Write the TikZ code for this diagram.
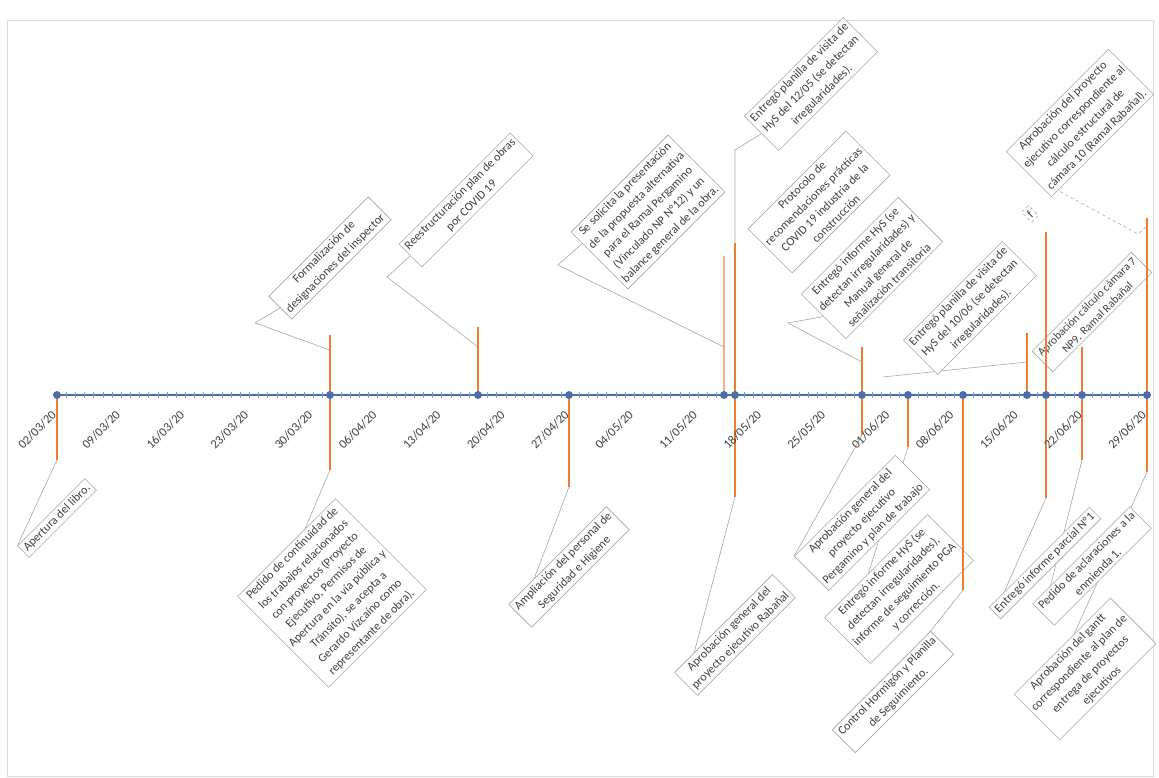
\documentclass[tikz,border=0pt]{standalone}
\usepackage{fontspec}
\setmainfont{Carlito}
\usetikzlibrary{calc}
\definecolor{axisblue}{HTML}{4A6EA9}
\definecolor{evorange}{HTML}{ED7D31}
\definecolor{boxgray}{HTML}{A6A6A6}
\definecolor{txtgray}{HTML}{404040}
\pgfdeclarelayer{bg}
\pgfsetlayers{bg,main}
\begin{document}
\begin{tikzpicture}[x=1pt,y=-1pt,
  evbox/.style={draw=boxgray, line width=0.6pt, fill=white, rotate=45, align=center, inner sep=3pt, font=\fontsize{12}{16}\selectfont, text=txtgray},
  leader/.style={draw=boxgray, line width=0.6pt},
  evline/.style={draw=evorange, line width=1.8pt},
  marker/.style={circle, fill=axisblue, inner sep=0pt, minimum size=8pt},
  datelbl/.style={rotate=45, anchor=east, font=\fontsize{12.5}{14}\selectfont, text=txtgray, inner sep=0pt},
]
\useasboundingbox (0,0) rectangle (1159,778);
\draw[draw=black!15] (7,20) rectangle (1153,776);

% ---- upper boxes
\node[evbox] (U1) at (330,258) {Formalización de\\designaciones del inspector};
\node[evbox] (U2) at (466,200) {Reestructuración plan de obras\\por COVID 19};
\node[evbox] (U3) at (648,212) {Se solicita la presentación\\de la propuesta alternativa\\para el Ramal Pergamino\\(Vinculado NP Nº12) y un\\balance general de la obra.};
\node[evbox] (U4) at (811,84) {Entregó planilla de visita de\\HyS del 12/05 (se detectan\\irregularidades).};
\node[evbox] (U5) at (819,202) {Protocolo de\\recomendaciones prácticas\\COVID 19 industria de la\\construcción};
\node[evbox] (U6) at (872,268) {Entregó informe HyS (se\\detectan irregularidades) y\\Manual general de\\señalización transitoria};
\node[evbox] (U7) at (970,308) {Entregó planilla de visita de\\HyS del 10/06 (se detectan\\irregularidades).};
\node[evbox] (U8) at (1080,123) {Aprobación del proyecto\\ejecutivo correspondiente al\\cálculo estructural de\\cámara 10 (Ramal Rabañal).};
\node[evbox, dashed] (U9) at (1030,214) {f};
\node[evbox, font=\fontsize{11.5}{15}\selectfont] (U10) at (1092,312) {Aprobación cálculo cámara 7\\NP9. Ramal Rabañal};

% ---- lower boxes
\node[evbox] (L1) at (57,518) {Apertura del libro.};
\node[evbox] (L2) at (332,593) {Pedido de continuidad de\\los trabajos relacionados\\con proyectos (Proyecto\\Ejecutivo, Permisos de\\Apertura en la vía pública y\\Tránsito), se acepta a\\Gerardo Vizcaíno como\\representante de obra).};
\node[evbox] (L3) at (569,567) {Ampliación del personal de\\Seguridad e Higiene};
\node[evbox] (L4) at (735,635) {Aprobación general del\\proyecto ejecutivo Rabañal};
\node[evbox] (L5) at (862,523) {Aprobación general del\\proyecto ejecutivo\\Pergamino y plan de trabajo};
\node[evbox] (L6) at (899,589) {Entregó informe HyS (se\\detectan irregularidades),\\informe de seguimiento PGA\\y corrección.};
\node[evbox] (L7) at (893,692) {Control Hormigón y Planilla\\de Seguimiento.};
\node[evbox] (L8) at (1045,563) {Entregó informe parcial Nº1};
\node[evbox] (L9) at (1092,566) {Pedido de aclaraciones a la\\enmienda 1.};
\node[evbox] (L10) at (1085,669) {Aprobación del gantt\\correspondiente al plan de\\entrega de proyectos\\ejecutivos};

% ---- axis positions of the events
\foreach \x [count=\i] in {57,330,478,569,724,735,862,908,963,1027,1046,1082,1147}
  \coordinate (a\i) at (\x,395);

% ---- event line ends
\coordinate (b1) at (57,460);
\coordinate (t2) at (330,335);  \coordinate (b2) at (330,470);
\coordinate (t3) at (478,327);
\coordinate (b4) at (569,487);
\coordinate (t5) at (724,256);
\coordinate (t6) at (735,243);  \coordinate (b6) at (735,497);
\coordinate (t7) at (862,347);  \coordinate (b7) at (862,435);
\coordinate (b8) at (908,447);
\coordinate (b9) at (963,590);
\coordinate (t10) at (1027,333);
\coordinate (t11) at (1046,232); \coordinate (b11) at (1046,498);
\coordinate (t12) at (1082,347); \coordinate (b12) at (1082,460);
\coordinate (t13) at (1147,218); \coordinate (b13) at (1147,472);

% leader bends and starts
\coordinate (k1) at (255,323);
\coordinate (k2) at (387,277);
\coordinate (k3) at (558,265);
\coordinate (k4) at (735,150);
\coordinate (k6) at (788,323);
\coordinate (k7) at (883,377);
\coordinate (k8) at (1138,234);
\coordinate (s1) at (330,350);
\coordinate (s2) at (478,347);
\coordinate (s3) at (724,347);
\coordinate (s6) at (862,362);
\coordinate (s7) at (1027,362);
\coordinate (s8) at (1147,226);

% ---- leaders (behind boxes)
\begin{pgfonlayer}{bg}
\draw[leader] (b1) -- (L1.north west);
\draw[leader] (b2) -- ($(L2.north west)!0.3!(L2.south west)$);
\draw[leader] (s1) -- (k1) -- (U1.west);
\draw[leader] (s2) -- (k2) -- (U2.west);
\draw[leader] (b4) -- (L3.west);
\draw[leader] (s3) -- (k3) -- ($(U3.north west)!0.2!(U3.south west)$);
\draw[leader] (t6) -- (k4) -- (U4.west);
\draw[leader] (b6) -- (L4.west);
\draw[leader] (s6) -- (k6) -- (U6.west);
\draw[leader] (b7) -- (L5.north west);
\draw[leader] (b8) -- (L6.west);
\draw[leader] (b9) -- (L7.west);
\draw[leader] (s7) -- (k7);
\draw[leader] (b11) -- (L8.west);
\draw[leader] (b12) -- (L9.west);
\draw[leader] (b13) -- (L10.west);
\draw[leader, dashed] (U8.west) -- (k8) -- (s8);
\end{pgfonlayer}

% ---- orange event lines
\draw[evline] (a1) -- (b1);
\draw[evline] (t2) -- (b2);
\draw[evline] (a3) -- (t3);
\draw[evline] (a4) -- (b4);
\draw[evline, draw opacity=0.6] (a5) -- (t5);
\draw[evline] (t6) -- (b6);
\draw[evline] (t7) -- (b7);
\draw[evline] (a8) -- (b8);
\draw[evline] (a9) -- (b9);
\draw[evline] (a10) -- (t10);
\draw[evline] (t11) -- (b11);
\draw[evline] (t12) -- (b12);
\draw[evline] (t13) -- (b13);

% ---- axis
\draw[axisblue, line width=2.6pt] (a1) -- (a13);
\foreach \d in {0,...,119}
  \draw[axisblue!70, line width=0.5pt] ({57+9.16*\d},392) -- ({57+9.16*\d},398);
\foreach \i in {1,...,13}
  \node[marker] (m\i) at (a\i) {};

% ---- date labels
\foreach \t [count=\i from 0] in {02/03/20,09/03/20,16/03/20,23/03/20,30/03/20,06/04/20,13/04/20,20/04/20,27/04/20,04/05/20,11/05/20,18/05/20,25/05/20,01/06/20,08/06/20,15/06/20,22/06/20,29/06/20}
  \node[datelbl] (d\i) at ({54+64.12*\i},413) {\t};
\end{tikzpicture}
\end{document}
